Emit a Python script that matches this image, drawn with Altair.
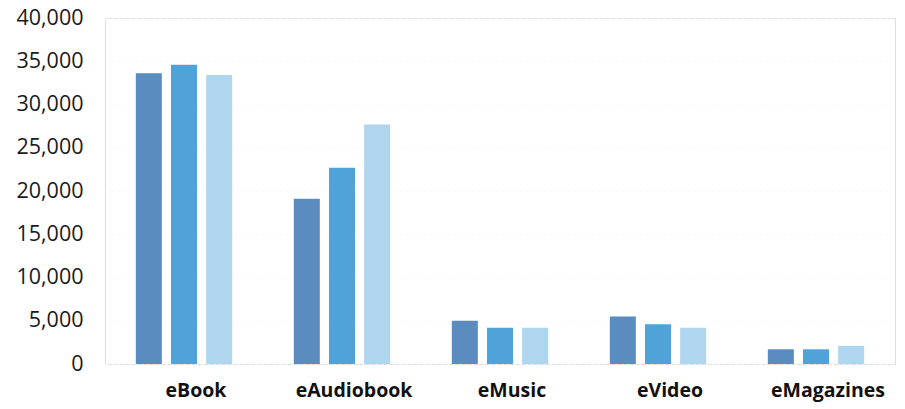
import altair as alt
import pandas as pd

categories = ["eBook", "eAudiobook", "eMusic", "eVideo", "eMagazines"]
series = ["Series 1", "Series 2", "Series 3"]
values_s1 = [33600, 19100, 5000, 5500, 1700]
values_s2 = [34600, 22700, 4200, 4600, 1700]
values_s3 = [33400, 27700, 4200, 4200, 2100]
colors = ["#5b8cc0", "#4fa3d8", "#b0d5ee"]
y_ticks = [0, 5000, 10000, 15000, 20000, 25000, 30000, 35000, 40000]

rows = []
for s, vals in zip(series, [values_s1, values_s2, values_s3]):
    for c, v in zip(categories, vals):
        rows.append({"category": c, "series": s, "value": v})
df = pd.DataFrame(rows)

chart = alt.Chart(df).mark_bar().encode(
    x=alt.X("category:N", sort=categories, title=None,
            scale=alt.Scale(paddingInner=0.39, paddingOuter=0.195),
            axis=alt.Axis(labelAngle=0, labelFont="Open Sans", labelFontWeight="bold",
                          labelFontSize=19.5, labelColor="#111111", labelPadding=17,
                          labelOffset=12, ticks=False, domain=False)),
    xOffset=alt.XOffset("series:N", sort=series,
                        scale=alt.Scale(paddingInner=0.26, paddingOuter=0)),
    y=alt.Y("value:Q", title=None,
            scale=alt.Scale(domain=[0, 40000], nice=False),
            axis=alt.Axis(values=y_ticks, format=",.0f", labelFont="Open Sans",
                          labelFontSize=21.5, labelColor="#1a1a1a", labelPadding=22,
                          ticks=False, domain=False, grid=True,
                          gridColor="#f6f6f6", gridDash=[2, 4])),
    color=alt.Color("series:N", sort=series,
                    scale=alt.Scale(domain=series, range=colors), legend=None),
).properties(
    width=790, height=346,
    autosize=alt.AutoSizeParams(type="none"),
    padding={"left": 105, "top": 18, "right": 10, "bottom": 45},
).configure_view(stroke=None).configure(background="white")

chart.save("out.html", embed_options={"renderer": "svg", "actions": False})
